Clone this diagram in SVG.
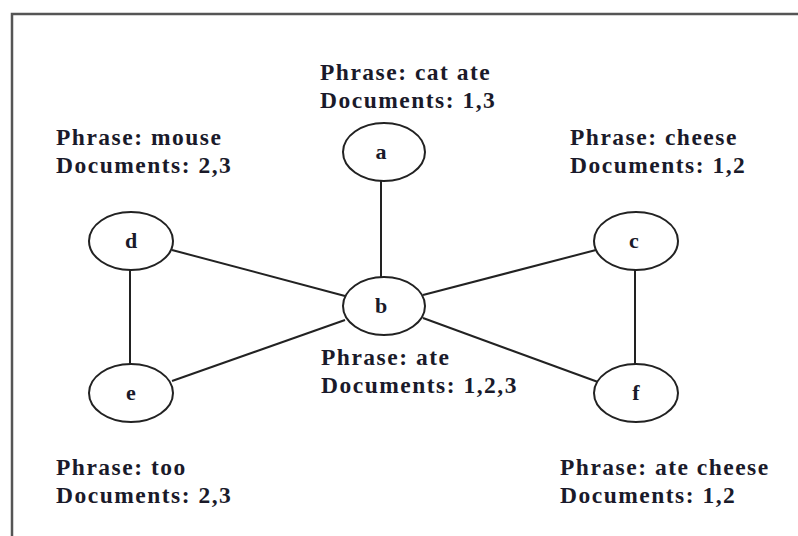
<svg xmlns="http://www.w3.org/2000/svg" width="798" height="536" viewBox="0 0 798 536">
<style>
.frame{fill:none;stroke:#555;stroke-width:2.5}
.node ellipse{fill:#fff;stroke:#222;stroke-width:2}
.node text{font-family:"Liberation Serif",serif;font-size:22px;font-weight:bold;fill:#1a1a2a;text-anchor:middle}
.edges line{stroke:#222;stroke-width:2}
.lbl{font-family:"Liberation Serif",serif;font-size:23.5px;font-weight:bold;fill:#1a1a2a;letter-spacing:1.5px}
</style>
<rect width="798" height="536" fill="#fff"/>
<polyline class="frame" points="12,536 12,14 798,14"/>
<g class="edges" id="edges">
<line x1="381" y1="180" x2="381" y2="277"/>
<line x1="130" y1="270" x2="130" y2="364"/>
<line x1="635" y1="270" x2="635" y2="364"/>
<line x1="172" y1="250" x2="345" y2="296"/>
<line x1="172" y1="381" x2="345" y2="320"/>
<line x1="423" y1="295" x2="596" y2="250"/>
<line x1="423" y1="318" x2="598" y2="382"/>
</g>
<g class="node" id="node-a"><ellipse cx="384" cy="152" rx="41" ry="29"/><text x="381" y="159">a</text></g>
<g class="node" id="node-b"><ellipse cx="384" cy="306" rx="41" ry="29"/><text x="381" y="313">b</text></g>
<g class="node" id="node-c"><ellipse cx="636" cy="241" rx="42" ry="29"/><text x="634" y="248">c</text></g>
<g class="node" id="node-d"><ellipse cx="131" cy="241" rx="42" ry="29"/><text x="131" y="248">d</text></g>
<g class="node" id="node-e"><ellipse cx="131" cy="393" rx="42" ry="29"/><text x="131" y="400">e</text></g>
<g class="node" id="node-f"><ellipse cx="636" cy="393" rx="42" ry="29"/><text x="636" y="400">f</text></g>
<g id="labels">
<text class="lbl" x="320" y="80">Phrase: cat ate</text>
<text class="lbl" x="320" y="108">Documents: 1,3</text>
<text class="lbl" x="56" y="145">Phrase: mouse</text>
<text class="lbl" x="56" y="173">Documents: 2,3</text>
<text class="lbl" x="570" y="145">Phrase: cheese</text>
<text class="lbl" x="570" y="173">Documents: 1,2</text>
<text class="lbl" x="321" y="365">Phrase: ate</text>
<text class="lbl" x="321" y="393">Documents: 1,2,3</text>
<text class="lbl" x="56" y="475">Phrase: too</text>
<text class="lbl" x="56" y="503">Documents: 2,3</text>
<text class="lbl" x="560" y="475">Phrase: ate cheese</text>
<text class="lbl" x="560" y="503">Documents: 1,2</text>
</g>
</svg>
